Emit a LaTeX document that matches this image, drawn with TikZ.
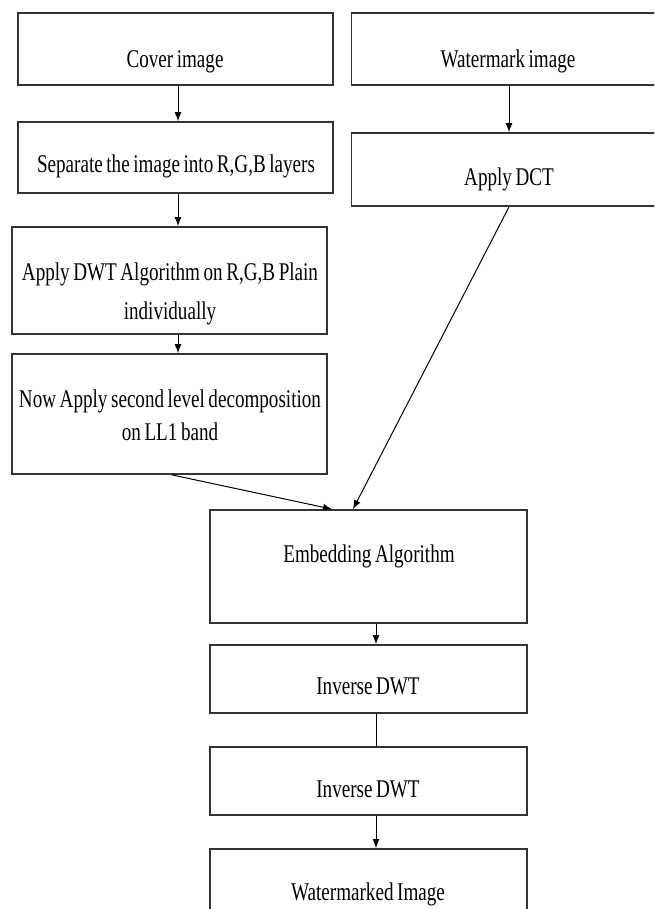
\documentclass[tikz,border=0pt]{standalone}
\usepackage{fontspec}
\setmainfont{Liberation Serif}[FakeStretch=0.75, WordSpace=0.75]
\usetikzlibrary{arrows.meta}

\begin{document}
\begin{tikzpicture}[x=0.2mm, y=-0.2mm,
    box/.style={draw=black!80, line width=0.35mm, minimum width=63mm, inner sep=0pt},
    txt/.style={font=\fontsize{14.5pt}{19pt}\selectfont, inner sep=0pt},
    pfeil/.style={-{Latex[length=1.8mm,width=1.4mm]}, line width=0.2mm},
]

\useasboundingbox (0,0) rectangle (654,909);
\fill[white] (0,0) rectangle (654,909);
\clip (0,0) rectangle (654,909);

% left column
\node[box, minimum height=14.4mm] (cover) at (175.25,49) {};
\node[box, minimum height=14.2mm] (sep) at (175.25,157.5) {};
\node[box, minimum height=21.4mm] (dwt) at (169.5,280.5) {};
\node[box, minimum height=24mm] (now) at (169.5,414) {};

% right column
\node[box, minimum height=14.4mm] (wmk) at (509,49) {};
\node[box, minimum height=14.6mm] (dct) at (509,169.5) {};

% bottom chain
\node[box, minimum width=63.4mm, minimum height=22.6mm] (emb) at (368.5,566.5) {};
\node[box, minimum width=63.4mm, minimum height=13.6mm] (inva) at (368.5,679) {};
\node[box, minimum width=63.4mm, minimum height=13.6mm] (invb) at (368.5,781) {};
\node[box, minimum width=63.4mm, minimum height=21.2mm] (out) at (368.5,902) {};

% texts
\node[txt, anchor=base] (coverT) at (175,67) {Cover image};
\node[txt, anchor=base] (sepT) at (176,172) {Separate the image into R,G,B layers};
\node[txt, align=center] (dwtT) at (170,294) {Apply DWT Algorithm on R,G,B Plain\\[3pt]individually};
\node[txt, align=center] (nowT) at (170,415) {Now Apply second level decomposition\\on LL1 band};
\node[txt, anchor=base] (wmkT) at (508,67) {Watermark image};
\node[txt, anchor=base] (dctT) at (509,185) {Apply DCT};
\node[txt, anchor=base] (embT) at (369,562) {Embedding Algorithm};
\node[txt, anchor=base] (invaT) at (368,694) {Inverse DWT};
\node[txt, anchor=base] (invbT) at (368,797) {Inverse DWT};
\node[txt, anchor=base] (outT) at (368,900) {Watermarked Image};

% connectors
\draw[pfeil] ([xshift=0.55mm]cover.south) -- ([xshift=0.55mm]sep.north);
\draw[pfeil] ([xshift=0.55mm]sep.south) -- ([xshift=0.55mm]sep.south |- dwt.north);
\draw[pfeil] ([xshift=1.7mm]dwt.south) -- ([xshift=1.7mm]now.north);
\draw[pfeil] (wmk.south) -- (dct.north);
\draw[pfeil] ([xshift=0.5mm]now.south) -- ([xshift=-7.3mm]emb.north);
\draw[pfeil] (dct.south) -- ([xshift=-3.1mm]emb.north);
\draw[pfeil] ([xshift=1.5mm]emb.south) -- ([xshift=1.5mm]inva.north);
\draw[line width=0.2mm] ([xshift=1.5mm]inva.south) -- ([xshift=1.5mm]invb.north);
\draw[pfeil] ([xshift=1.5mm]invb.south) -- ([xshift=1.5mm]out.north);

\end{tikzpicture}
\end{document}
